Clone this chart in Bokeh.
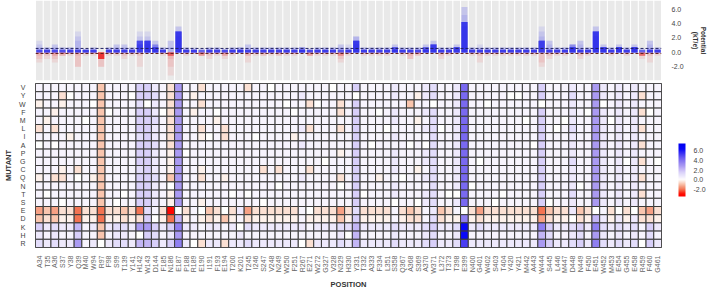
import numpy as np
from bokeh.plotting import figure
from bokeh.layouts import column
from bokeh.models import (FactorRange, Range1d, FixedTicker, NumeralTickFormatter,
                          LinearColorMapper, ColorBar, Span, ColumnDataSource,
                          Legend, LegendItem, AllLabels)
from bokeh.core.properties import value
from bokeh.transform import transform
from bokeh.embed import file_html
from bokeh.resources import INLINE

# ---------------- data ----------------
positions = ["A34", "T35", "A36", "S37", "Y38", "Q39", "M40", "W94", "R97", "F98",
             "S99", "T139", "Y141", "H142", "W143", "D144", "F185", "N186", "E187", "P188",
             "R189", "E190", "I191", "F193", "E194", "T200", "K201", "T245", "I246", "S247",
             "V248", "N249", "W250", "F251", "R267", "E271", "W272", "G327", "V328", "N329",
             "H330", "Y331", "T332", "A333", "F334", "L351", "S358", "Q367", "A368", "S369",
             "A370", "W371", "L372", "T373", "T398", "E399", "N400", "G401", "W402", "S403",
             "T404", "Y420", "Y421", "M442", "A443", "W444", "S445", "L446", "M447", "D448",
             "N449", "F450", "E451", "W452", "M453", "E454", "G455", "E458", "R459", "F460",
             "G461"]

mutants = ["V", "Y", "W", "F", "M", "L", "I", "A", "P", "G",
           "C", "Q", "N", "T", "S", "E", "D", "K", "H", "R"]

# potential (kT/e) levels
level_values = {".": 0.0, "1": 0.35, "2": 0.7, "3": 1.1, "4": 1.6, "5": 2.2,
                "6": 2.9, "7": 3.6, "8": 4.2, "9": 5.2, "X": 6.3,
                "a": -0.2, "b": -0.45, "c": -0.9, "d": -1.4, "e": -2.0,
                "f": -2.6, "g": -3.2}

# one string per position, mutant order V Y W F M | L I A P G | C Q N T S | E D K H R
potential_codes = [
    "11a11 b1.11 1a111 dc423", "1111a 11111 111.1 cb212", "111a1 b1.11 1b111 dc323",
    "1ba11 11111 ab11. ba212", "1.111 1a111 11111 ba212", "11111 11111 b.111 ee546",
    "1111. 11111 11111 ba111", "11.11 11111 1a111 ba212", "ccccc ccccc ccccc eecc.",
    "111.1 11111 11111 ba212", "11111 11111 1111. ba323", "11111 11111 111.1 cb323",
    "1.111 11111 11111 ba212", "44344 43444 34444 eb6.5", "44.44 44444 44444 34645",
    "23223 22322 23222 1.434", "111.1 11111 11111 ba212", "bbbbb bbbaa ac.aa ge424",
    "66666 66666 66666 .5767", "11111 111.1 11111 ba212", "1a1a1 11111 11111 1121.",
    "b1b11 ba111 ab11a .a11b", "11111 1.111 11111 cb212", "111.a 11111 11111 ba212",
    "11111 bb111 1a111 .c11b", "11111 11111 111.1 ba212", "11111 11111 11111 21.22",
    "b1111 11111 111.1 db313", "11111 1.111 11111 ba212", "11111 11111 b111. ba212",
    ".1111 11111 11111 ba212", "11111 11111 b1.11 ba212", "11.11 11111 11111 ba212",
    "111.1 1a111 11111 ba212", "12111 21211 12111 1121.", "11b11 b1111 b1111 .a11b",
    "11.11 11111 11111 ba212", "11111 1111. 11111 ba212", ".1111 11111 11111 ba212",
    "11bb1 b11a1 1b.11 dc323", "11111 11111 11111 ba3.2", "4.444 44444 44444 34555",
    "11111 11111 111.1 ba212", "11111 11.11 11111 ba212", "111.1 11111 1a111 ba212",
    "11111 .1111 11111 ba212", "22122 12122 2122. 11323", "11111 11111 1.111 ba212",
    "11c11 11.11 11111 cb212", "1a11a 11111 a111. bb212", "22121 21.22 12122 11323",
    "33.33 33333 33333 23434", "11111 .1111 11111 cb212", "11111 11111 111.1 ba212",
    "22222 22222 222.2 1a323", "88888 88888 88888 .7XX9", "11111 11111 11.11 ba212",
    "11111 1111. 11111 db312", "11.11 11111 11111 ba212", "11111 11111 1111. ba212",
    "11111 11111 111.1 ba212", "1.111 11111 11111 ba212", "1.111 11111 11111 ba212",
    "1111. 11111 11111 ba212", "11111 11.11 11111 ba212", "44.44 44444 44444 ed756",
    "11111 11111 1111. cb434", "11111 .1111 11111 ba212", "1111. 11111 11111 ba212",
    "23222 32223 22232 2.323", "11111 11111 11.11 cb434", "111.1 11111 11111 ba212",
    "66666 66666 66666 .5767", "22.22 22222 22222 12323", "1111. 11111 11111 ba212",
    "22222 22222 22222 .2323", "11111 1111. 11111 ba212", "22222 22222 22222 .2323",
    "1b1b1 b1b1b 1b1b1 cb11.", "111.1 11111 11111 db434", "11111 1111. 11111 ba212",
]

bar_ticks = [-2, 0, 2, 4, 6]
legend_title = ["Potential", "(kT/e)"]

assert len(potential_codes) == len(positions)
values = []
for code in potential_codes:
    c = code.replace(" ", "")
    assert len(c) == len(mutants), code
    values.append([level_values[ch] for ch in c])

# ---------------- style ----------------
FONT = "Liberation Sans"
W = 709
BORDER_L, BORDER_R = 25, 41
FRAME_W = W - BORDER_L - BORDER_R
H_TOP = 82
H_HEAT = 291 - H_TOP

anchor_vals = [-3.5, -3.0, -2.0, -1.0, -0.4, 0.0, 0.4, 1.0, 1.6, 2.9, 4.2, 5.2, 6.3, 7.5]
anchor_cols = ["#ff0000", "#ff0c00", "#f37755", "#f8bfa7", "#fce5da", "#ffffff", "#f5f2fd",
               "#e6e0fb", "#d8cff9", "#a999f2", "#7a6af1", "#4a3ef3", "#0a08f8", "#0000f0"]
low, high = -3.5, 7.5
rgb = np.array([[int(h[i:i + 2], 16) for i in (1, 3, 5)] for h in anchor_cols], dtype=float)
grid = np.linspace(low, high, 256)
palette = ["#%02x%02x%02x" % tuple(int(round(np.interp(g, anchor_vals, rgb[:, k]))) for k in range(3))
           for g in grid]
mapper = LinearColorMapper(palette=palette, low=low, high=high)

x_range = FactorRange(factors=positions, range_padding=0)

# ---------------- top bar panel ----------------
y_lo, y_hi = -3.9, 7.2
top = figure(width=W, height=H_TOP, x_range=x_range, y_range=Range1d(y_lo, y_hi),
             x_axis_location=None, y_axis_location="right",
             output_backend="svg", toolbar_location=None,
             min_border_left=BORDER_L, min_border_right=BORDER_R,
             min_border_top=0, min_border_bottom=2)
top.outline_line_color = None
top.grid.visible = False
top.background_fill_color = "white"

top.vbar(x=positions, top=y_hi, bottom=y_lo, width=0.86, fill_color="#e9e9e9", line_color=None)

bx, btop, bcol = [], [], []
for pos, col_vals in zip(positions, values):
    for v in col_vals:
        if v != 0:
            bx.append(pos)
            btop.append(v)
            bcol.append("#1414f5" if v > 0 else "#f51414")
top.vbar(x=bx, top=btop, bottom=0, width=0.78, fill_color=bcol, fill_alpha=0.09, line_color=None)

top.add_layout(Span(location=0.55, dimension="width", line_color="#202060",
                    line_dash="3 2", line_width=1))
top.add_layout(Span(location=-0.15, dimension="width", line_color="#602020",
                    line_dash="3 2", line_width=1))

ax = top.yaxis[0]
ax.ticker = FixedTicker(ticks=bar_ticks)
ax.formatter = NumeralTickFormatter(format="0.0")
ax.axis_line_color = None
ax.major_tick_line_color = None
ax.minor_tick_line_color = None
ax.major_label_text_font = FONT
ax.major_label_text_font_size = "7px"
ax.major_label_text_color = "#444444"
ax.major_label_standoff = 4
ax.axis_label = "Potential\n(kT/e)"
ax.axis_label_text_font = FONT
ax.axis_label_text_font_size = "6.5px"
ax.axis_label_text_font_style = "bold"
ax.axis_label_text_color = "#333333"
ax.axis_label_standoff = 5

# ---------------- heat-map ----------------
hx, hy, hv = [], [], []
for pos, col_vals in zip(positions, values):
    for mut, v in zip(mutants, col_vals):
        hx.append(pos)
        hy.append(mut)
        hv.append(v)
src = ColumnDataSource(dict(pos=hx, mut=hy, val=hv))

heat = figure(width=W, height=H_HEAT, x_range=x_range,
              y_range=FactorRange(factors=mutants[::-1], range_padding=0),
              output_backend="svg", toolbar_location=None,
              min_border_left=BORDER_L, min_border_right=BORDER_R,
              min_border_top=1, min_border_bottom=0)
heat.outline_line_color = "#333333"
heat.grid.visible = False
heat.rect(x="pos", y="mut", width=1, height=1, source=src,
          fill_color=transform("val", mapper), line_color="#3a3a3a", line_width=1)

for a in (heat.xaxis[0], heat.yaxis[0]):
    a.axis_line_color = None
    a.major_tick_line_color = None
    a.minor_tick_line_color = None
    a.major_label_text_font = FONT
    a.axis_label_text_font = FONT
    a.axis_label_text_font_style = "bold"
    a.axis_label_text_color = "#333333"
    a.axis_label_text_font_size = "7.5px"

xa = heat.xaxis[0]
xa.major_label_orientation = np.pi / 2
xa.major_label_text_font_size = "7px"
xa.major_label_text_color = "#666666"
xa.major_label_standoff = 2
xa.axis_label = "POSITION"
xa.axis_label_standoff = 3

ya = heat.yaxis[0]
ya.major_label_text_font_size = "7px"
ya.major_label_text_color = "#444444"
ya.major_label_standoff = 4
ya.axis_label = "MUTANT"
ya.axis_label_standoff = 3

# colour legend: colour bar just right of the frame
cb = ColorBar(color_mapper=mapper, ticker=FixedTicker(ticks=bar_ticks),
              formatter=NumeralTickFormatter(format="0.0"),
              major_label_policy=AllLabels(),
              orientation="vertical",
              width=7, height=53, location=(FRAME_W, 51), padding=0, margin=0,
              label_standoff=8, major_tick_line_color=None, minor_tick_line_color=None,
              bar_line_color=None, background_fill_color=None, border_line_color=None,
              major_label_text_font=FONT, major_label_text_font_size="7px",
              major_label_text_color="#444444")
heat.add_layout(cb)

# legend title ("Potential" / "(kT/e)") above the colour bar
dummy = heat.scatter(x=[], y=[], size=0, fill_alpha=0, line_alpha=0)
title_box = Legend(items=[LegendItem(label=value(legend_title[1]), renderers=[dummy])],
                   title=legend_title[0], location=(FRAME_W + 9, 106),
                   padding=0, margin=0, spacing=0, border_line_color=None,
                   background_fill_color=None, background_fill_alpha=0,
                   glyph_width=0, glyph_height=8, label_height=8, label_standoff=5,
                   label_text_font=FONT, label_text_font_size="7px",
                   label_text_font_style="bold", label_text_color="#333333",
                   title_text_font=FONT, title_text_font_size="7px",
                   title_text_font_style="bold", title_text_color="#333333",
                   title_standoff=1, click_policy="none")
heat.add_layout(title_box)

layout = column(top, heat, spacing=0)
open("out.html", "w").write(file_html(layout, INLINE))
